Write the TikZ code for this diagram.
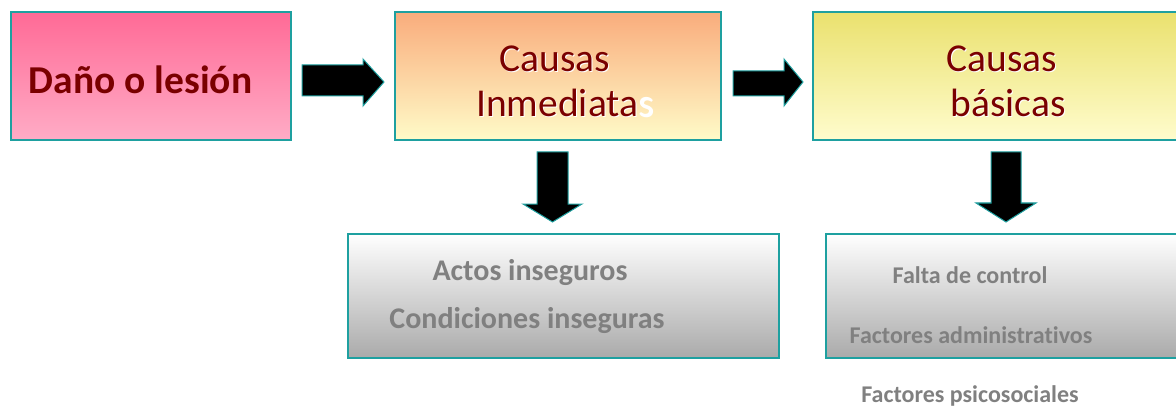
\documentclass[tikz,border=0pt]{standalone}
\usepackage{fontspec}
\setmainfont{Carlito}[Ligatures=NoCommon]
\definecolor{teal1}{RGB}{30,160,160}
\definecolor{dred}{RGB}{122,0,0}
\definecolor{gtxt}{RGB}{128,128,128}
\definecolor{pinkT}{RGB}{255,106,150}
\definecolor{pinkB}{RGB}{255,172,198}
\definecolor{orT}{RGB}{249,172,124}
\definecolor{orB}{RGB}{255,251,200}
\definecolor{yeT}{RGB}{234,225,110}
\definecolor{yeB}{RGB}{255,252,205}
\definecolor{grB}{RGB}{170,170,170}
\begin{document}
\begin{tikzpicture}[x=1pt,y=-1pt,
  boxstyle/.style={draw=teal1,line width=1.4pt},
  blockarrow/.style={fill=black,draw=teal1,line width=1pt,line join=miter},
  bigtxt/.style={anchor=base,font=\fontsize{39.5}{40}\selectfont,text=dred,inner sep=0pt},
  shadowtxt/.style={anchor=base,font=\fontsize{39.5}{40}\selectfont,text=white,inner sep=0pt},
  graytxt/.style={anchor=base,font=\bfseries\fontsize{30}{30}\selectfont,text=gtxt,inner sep=0pt},
  smalltxt/.style={anchor=base,font=\bfseries\fontsize{24}{24}\selectfont,text=gtxt,inner sep=0pt}]
\useasboundingbox (0,0) rectangle (1176,409);
% boxes
\draw[boxstyle,top color=pinkT,bottom color=pinkB] (11,12) rectangle (291,140);
\draw[boxstyle,top color=orT,bottom color=orB] (395,12) rectangle (721,140);
\draw[boxstyle,top color=yeT,bottom color=yeB] (813,12) rectangle (1185,140);
\draw[boxstyle,top color=white,bottom color=grB] (348,234) rectangle (779,358);
\draw[boxstyle,top color=white,bottom color=grB] (826,234) rectangle (1185,358);
% arrows
\draw[blockarrow] (302,65) -- (363,65) -- (363,59) -- (384,82) -- (363,106) -- (363,96) -- (302,96) -- cycle;
\draw[blockarrow] (733,71) -- (784,71) -- (784,59) -- (803,82) -- (784,106) -- (784,96) -- (733,96) -- cycle;
\draw[blockarrow] (537,152) -- (568,152) -- (568,204) -- (582,204) -- (552.5,222) -- (523,204) -- (537,204) -- cycle;
\draw[blockarrow] (991,152) -- (1021,152) -- (1021,203) -- (1036,203) -- (1006,222) -- (976,203) -- (991,203) -- cycle;
% texts
\node[bigtxt,font=\bfseries\fontsize{39.5}{40}\selectfont] (t1) at (140.5,94) {Daño o lesión};
\node[shadowtxt] (t2s) at (556,73) {Causas};
\node[bigtxt] (t2) at (555,72) {Causas};
\node[shadowtxt] (t3s) at (566,118) {Inmediatas};
\node[bigtxt] (t3) at (565,117) {Inmediata\textcolor{white}{s}};
\node[shadowtxt] (t4s) at (1003,73) {Causas};
\node[bigtxt] (t4) at (1002,72) {Causas};
\node[shadowtxt] (t5s) at (1009,118) {básicas};
\node[bigtxt] (t5) at (1008,117) {básicas};
\node[graytxt] (a1) at (530,280) {Actos inseguros};
\node[graytxt] (a2) at (527,328) {Condiciones inseguras};
\node[smalltxt] (b1) at (970,283) {Falta de control};
\node[smalltxt] (b2) at (971,343) {Factores administrativos};
\node[smalltxt] (b3) at (970,402) {Factores psicosociales};
\end{tikzpicture}
\end{document}
